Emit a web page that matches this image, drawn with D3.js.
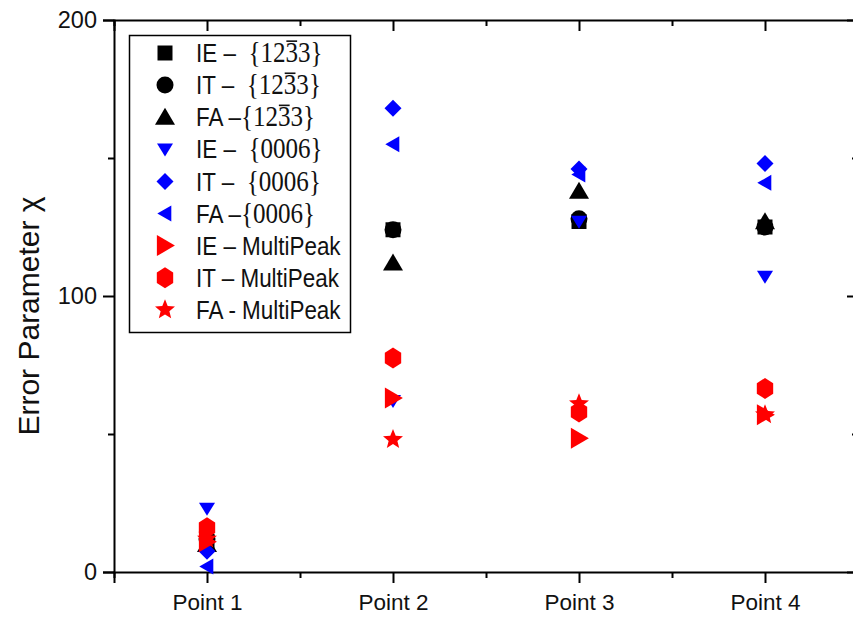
<!DOCTYPE html>
<html><head><meta charset="utf-8">
<script src="https://cdn.jsdelivr.net/npm/d3@7"></script>
<style>body{margin:0;background:#fff}</style>
</head><body>
<svg id="c" width="853" height="621"></svg>
<script>
// ---- data ----
const categories = ["Point 1", "Point 2", "Point 3", "Point 4"];
const ie1233 = [11, 124, 127, 125];
const it1233 = [12, 124, 128, 125];
const fa1233 = [10, 112, 138, 127];
const ie0006 = [23, 62, 127, 107];
const it0006 = [7.5, 168, 146, 148];
const fa0006 = [2, 155, 144, 141];
const ieMP = [11, 63, 48.5, 57];
const itMP = [16, 77.5, 58, 66.5];
const faMP = [12, 48, 61, 57];
const yTicks = [0, 100, 200];
const yMinorTicks = [50, 150];
const seriesPrefix = ["IE – ", "IT – ", "FA –", "IE – ", "IT – ", "FA –", "IE – MultiPeak", "IT – MultiPeak", "FA - MultiPeak"];
const seriesMath = ["1233", "1233", "1233", "0006", "0006", "0006", "", "", ""];
const seriesValues = [ie1233, it1233, fa1233, ie0006, it0006, fa0006, ieMP, itMP, faMP];

// ---- marker shapes ----
function tri(angleDeg, hw, hh) {
  return { draw(ctx) {
    const a = angleDeg * Math.PI / 180;
    const pts = [[0, -hh * 1.1], [hw, hh * 0.9], [-hw, hh * 0.9]];
    pts.forEach((p, i) => {
      const x = p[0] * Math.cos(a) - p[1] * Math.sin(a);
      const y = p[0] * Math.sin(a) + p[1] * Math.cos(a);
      i ? ctx.lineTo(x, y) : ctx.moveTo(x, y);
    });
    ctx.closePath();
  }};
}
const sq = h => ({ draw(ctx) { ctx.rect(-h, -h, 2 * h, 2 * h); } });
const circ = r => ({ draw(ctx) { ctx.moveTo(r, 0); ctx.arc(0, 0, r, 0, 2 * Math.PI); ctx.closePath(); } });
const diam = r => ({ draw(ctx) { ctx.moveTo(0, -r); ctx.lineTo(r, 0); ctx.lineTo(0, r); ctx.lineTo(-r, 0); ctx.closePath(); } });
const hex = r => ({ draw(ctx) {
  for (let i = 0; i < 6; i++) { const a = Math.PI / 3 * i - Math.PI / 2; const x = r * 0.9 * Math.cos(a), y = r * Math.sin(a); i ? ctx.lineTo(x, y) : ctx.moveTo(x, y); }
  ctx.closePath(); } });
const star = (R, r) => ({ draw(ctx) {
  for (let i = 0; i < 10; i++) { const a = Math.PI / 5 * i - Math.PI / 2; const rr = i % 2 ? r : R; const x = rr * Math.cos(a), y = rr * Math.sin(a); i ? ctx.lineTo(x, y) : ctx.moveTo(x, y); }
  ctx.closePath(); } });

const markers = [
  { t: sq(7.5), c: "#000" },
  { t: circ(8.5), c: "#000" },
  { t: tri(0, 10, 8.5), c: "#000" },
  { t: tri(180, 8, 6.5), c: "#0000ff" },
  { t: diam(8.5), c: "#0000ff" },
  { t: tri(-90, 8, 7), c: "#0000ff" },
  { t: tri(90, 10.5, 9), c: "#ff0000" },
  { t: hex(10.5), c: "#ff0000" },
  { t: star(10.5, 4.6), c: "#ff0000" }
];

// ---- layout ----
const svg = d3.select("#c");
const x = d3.scaleLinear().domain([0.5, 4.5]).range([114, 858]);
const y = d3.scaleLinear().domain([0, 200]).range([572, 20]);
const sans = "'Liberation Sans', Arial, sans-serif";
const serif = "'Liberation Serif', 'DejaVu Serif', serif";

// axes
const gL = svg.append("g").attr("transform", `translate(${x(0.5)},0)`)
  .call(d3.axisLeft(y).tickValues(yTicks).tickSize(11).tickPadding(6).tickFormat(d3.format("d")));
const gLm = svg.append("g").attr("transform", `translate(${x(0.5)},0)`)
  .call(d3.axisLeft(y).tickValues(yMinorTicks).tickSize(6).tickFormat(""));
const gR = svg.append("g").attr("transform", `translate(${x(4.5)},0)`)
  .call(d3.axisRight(y).tickValues(yTicks).tickSize(-11).tickFormat(""));
const gRm = svg.append("g").attr("transform", `translate(${x(4.5)},0)`)
  .call(d3.axisRight(y).tickValues(yMinorTicks).tickSize(-6).tickFormat(""));
const catIdx = categories.map((d, i) => i + 1);
const halfIdx = [0.5, 1.5, 2.5, 3.5, 4.5];
const gB = svg.append("g").attr("transform", `translate(0,${y(0)})`)
  .call(d3.axisBottom(x).tickValues(catIdx).tickSize(11).tickPadding(11).tickFormat((d, i) => categories[i]));
const gBm = svg.append("g").attr("transform", `translate(0,${y(0)})`)
  .call(d3.axisBottom(x).tickValues(halfIdx).tickSize(6).tickFormat(""));
const gT = svg.append("g").attr("transform", `translate(0,${y(200)})`)
  .call(d3.axisTop(x).tickValues(catIdx).tickSize(-11).tickFormat(""));
const gTm = svg.append("g").attr("transform", `translate(0,${y(200)})`)
  .call(d3.axisTop(x).tickValues(halfIdx).tickSize(-6).tickFormat(""));
[gL, gLm, gR, gRm, gB, gBm, gT, gTm].forEach(g => {
  g.select(".domain").attr("stroke", "#000").attr("stroke-width", 2);
  g.selectAll(".tick line").attr("stroke", "#000").attr("stroke-width", 2);
  g.selectAll("text").attr("font-family", sans).attr("fill", "#111");
});
gL.selectAll("text").attr("font-size", 23.5);
gB.selectAll("text").attr("font-size", 22.5);
[gLm, gRm, gBm, gTm, gR].forEach(g => g.select(".domain").remove());

// axis title
svg.append("text").attr("transform", `translate(39,${(y(0) + y(200)) / 2 + 20}) rotate(-90)`)
  .attr("text-anchor", "middle").attr("font-family", sans).attr("font-size", 30).attr("fill", "#111")
  .text("Error Parameter χ");

// points
seriesValues.forEach((vals, si) => {
  svg.append("g").selectAll("path").data(vals).join("path")
    .attr("transform", (d, i) => `translate(${x(i + 1)},${y(d)})`)
    .attr("d", d3.symbol().type(markers[si].t))
    .attr("fill", markers[si].c);
});

// legend
const lg = svg.append("g");
lg.append("rect").attr("x", 129.5).attr("y", 35.5).attr("width", 221).attr("height", 297)
  .attr("fill", "#fff").attr("stroke", "#000").attr("stroke-width", 1.5);
seriesPrefix.forEach((p, i) => {
  const cy = 53 + i * 32.1;
  lg.append("path").attr("transform", `translate(165,${cy})`)
    .attr("d", d3.symbol().type(markers[i].t)).attr("fill", markers[i].c);
  const eg = lg.append("g").attr("transform", `translate(196,${cy}) scale(0.88,1)`);
  const t = eg.append("text").attr("dy", "0.36em")
    .attr("font-family", sans).attr("font-size", 25.5).attr("fill", "#111")
    .style("white-space", "pre");
  t.append("tspan").text(p);
  const m = seriesMath[i];
  if (m) {
    const fs = 28.5;
    const lead = (p.endsWith(" ") ? " " : "") + "{";
    t.append("tspan").attr("font-family", serif).attr("font-size", fs).text(lead + m + "}");
    if (m === "1233") {
      const idx = p.length + lead.length + 2;
      const ext = t.node().getExtentOfChar(idx);
      const oy = ext.y + ext.height * 0.14;
      eg.append("line").attr("x1", ext.x + 1).attr("x2", ext.x + ext.width - 1)
        .attr("y1", oy).attr("y2", oy).attr("stroke", "#111").attr("stroke-width", 1.6);
    }
  }
});
</script>
</body></html>
